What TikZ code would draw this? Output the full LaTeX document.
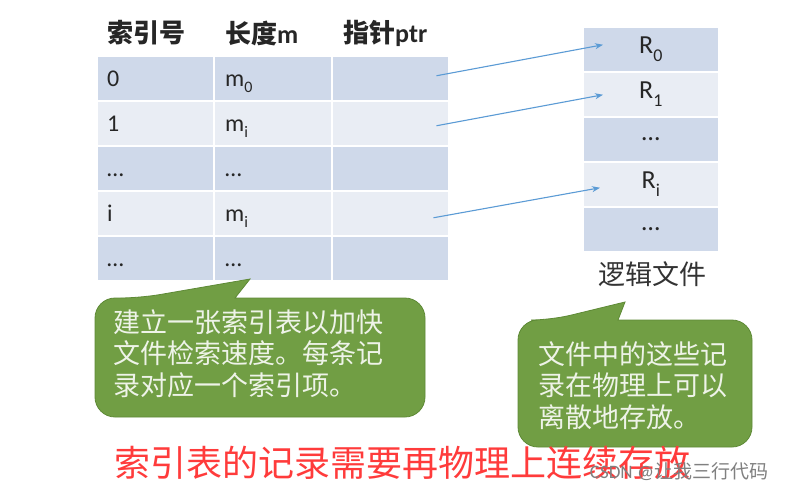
\documentclass[tikz,border=0pt]{standalone}
\usepackage{fontspec}
\setmainfont{Carlito}
\newfontfamily\cjk{Noto Sans CJK SC}
\usetikzlibrary{arrows.meta,calc}
\definecolor{rowdark}{HTML}{CFD9EA}
\definecolor{rowlight}{HTML}{E9EDF4}
\definecolor{arrowblue}{HTML}{5B9BD5}
\definecolor{bubblegreen}{HTML}{719E44}
\definecolor{bubbleedge}{HTML}{5E8A36}
\definecolor{bubbletext}{HTML}{EEF3E8}
\definecolor{alertred}{HTML}{FF3B3B}
\definecolor{wmgray}{HTML}{808080}
\newcommand\lowsub[1]{\raisebox{-0.28em}{\fontsize{16}{16}\selectfont #1}}
\newcommand\rsub[1]{\raisebox{-0.28em}{\fontsize{18}{18}\selectfont #1}}
\tikzset{
  cell/.style={draw=white, line width=1.5pt, minimum height=45pt, inner sep=0pt, anchor=north west},
  celltext/.style={font=\fontsize{24}{24}\selectfont, text=black!85, inner sep=0pt, anchor=base west},
  rtext/.style={font=\fontsize{26}{26}\selectfont, text=black!85, inner sep=0pt},
  headtext/.style={font=\bfseries\fontsize{26}{26}\selectfont, text=black!85, inner sep=0pt, anchor=west},
  bubble/.style={fill=bubblegreen, draw=bubbleedge, line width=0.8pt},
  bubbletxt/.style={font=\cjk\fontsize{27}{31.5}\selectfont, text=bubbletext, align=left, inner sep=0pt, anchor=west},
  ptr/.style={draw=arrowblue, line width=1.1pt, -{Stealth[length=8pt,width=6pt]}}
}
\begin{document}
\begin{tikzpicture}[x=1pt,y=-1pt]
\fill[white] (0,0) rectangle (791,491);
\useasboundingbox (0,0) rectangle (791,491);
% header
\node[headtext] (h1) at (107,33) {{\cjk 索引号}};
\node[headtext] (h2) at (225,33) {{\cjk 长度}m};
\node[headtext] (h3) at (343,33) {{\cjk 指针}ptr};
% index table
\foreach \r/\fc in {0/rowdark,1/rowlight,2/rowdark,3/rowlight,4/rowdark} {
  \node[cell, fill=\fc, minimum width=117pt] (a\r) at (96,{55+45*\r}) {};
  \node[cell, fill=\fc, minimum width=118pt] (b\r) at (213,{55+45*\r}) {};
  \node[cell, fill=\fc, minimum width=117pt] (p\r) at (331,{55+45*\r}) {};
}
\node[celltext] (ta0) at ($(a0.west)+(11,8)$) {0};
\node[celltext] (tb0) at ($(b0.west)+(12,8)$) {m\lowsub{0}};
\node[celltext] (ta1) at ($(a1.west)+(11,8)$) {1};
\node[celltext] (tb1) at ($(b1.west)+(12,8)$) {m\lowsub{i}};
\node[celltext] (ta2) at ($(a2.west)+(11,8)$) {…};
\node[celltext] (tb2) at ($(b2.west)+(12,8)$) {…};
\node[celltext] (ta3) at ($(a3.west)+(11,8)$) {i};
\node[celltext] (tb3) at ($(b3.west)+(12,8)$) {m\lowsub{i}};
\node[celltext] (ta4) at ($(a4.west)+(11,8)$) {…};
\node[celltext] (tb4) at ($(b4.west)+(12,8)$) {…};
% logical file
\foreach \r/\fc in {0/rowdark,1/rowlight,2/rowdark,3/rowlight,4/rowdark} {
  \node[cell, fill=\fc, minimum width=136pt] (r\r) at (582,{26+45*\r}) {};
}
\node[rtext] (tr0) at (r0.center) {R\rsub{0}};
\node[rtext] (tr1) at (r1.center) {R\rsub{1}};
\node[rtext] (tr2) at (r2.center) {…};
\node[rtext] (tr3) at (r3.center) {R\rsub{i}};
\node[rtext] (tr4) at (r4.center) {…};
\node[font=\cjk\fontsize{27}{27}\selectfont, text=black!80, inner sep=0pt] (lf) at (652,274) {逻辑文件};
% pointers
\draw[ptr] ($(p0.east)+(-13,-2.5)$) -- ($(r0.west)+(21,-4.5)$);
\draw[ptr] ($(p1.east)+(-13,2.5)$) -- ($(r1.west)+(21,0.5)$);
\draw[ptr] ($(p3.east)+(-16,4.5)$) -- ($(r3.west)+(18,3.5)$);
% bubbles
\path[bubble] (330,298) [rounded corners=20pt] -- (425,298) -- (425,417) -- (95,417) -- (95,298) -- (140,298) [sharp corners] -- (250,279) -- (235,298) -- cycle;
\node[bubbletxt] (n1) at (113,353.5) {建立一张索引表以加快\\文件检索速度。每条记\\录对应一个索引项。};
\path[bubble] (690,320) [rounded corners=20pt] -- (752,320) -- (752,447) -- (518,447) -- (518,320) -- (551,320) [sharp corners] -- (625,302) -- (618,320) -- cycle;
\node[bubbletxt] (n2) at (538,385.5) {文件中的这些记\\录在物理上可以\\离散地存放。};
% red note
\node[font=\cjk\fontsize{36}{36}\selectfont, text=alertred, inner sep=0pt] (warn) at (402,463) {索引表的记录需要再物理上连续存放};
% watermark
\node[font=\fontsize{19}{19}\selectfont, text=wmgray, inner sep=0pt] (wm) at (679,472) {CSDN @{\cjk 让我三行代码}};
\end{tikzpicture}
\end{document}
